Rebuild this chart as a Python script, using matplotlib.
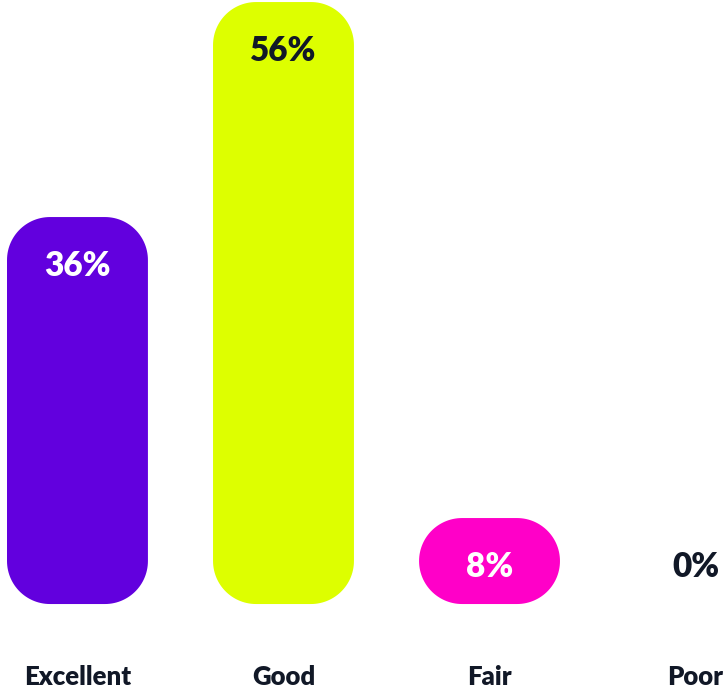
import matplotlib
matplotlib.use("Agg")
import numpy as np
import matplotlib.pyplot as plt
from matplotlib.patches import Polygon

categories = ["Excellent", "Good", "Fair", "Poor"]
values = [36, 56, 8, 0]
bar_colors = ["#6200DE", "#DDFF00", "#FF00C8", "#FFFFFF"]
label_colors = ["#FFFFFF", "#111827", "#FFFFFF", "#111827"]

W, H, DPI = 725, 691, 100
fig = plt.figure(figsize=(W / DPI, H / DPI), dpi=DPI)
ax = fig.add_axes([0, 0, 1, 1])
xlim = (-0.376, 3.143)
ylim = (-8.09, 56.19)
ax.set_xlim(*xlim)
ax.set_ylim(*ylim)
ax.axis("off")

bar_width = 0.684
px_per_x = W / (xlim[1] - xlim[0])
px_per_y = H / (ylim[1] - ylim[0])
radius_px = 43


def rounded_bar(x0, x1, y0, y1):
    """Outline of a bar with circular corners of radius_px pixels."""
    rx = min(radius_px / px_per_x, (x1 - x0) / 2)
    ry = min(radius_px / px_per_y, (y1 - y0) / 2)
    corners = [
        (x1 - rx, y1 - ry, 0, 90),
        (x0 + rx, y1 - ry, 90, 180),
        (x0 + rx, y0 + ry, 180, 270),
        (x1 - rx, y0 + ry, 270, 360),
    ]
    pts = []
    for cx, cy, a0, a1 in corners:
        t = np.radians(np.linspace(a0, a1, 30))
        pts.extend(zip(cx + rx * np.cos(t), cy + ry * np.sin(t)))
    return np.array(pts)


font = ["Lato", "DejaVu Sans"]

for i, (cat, v) in enumerate(zip(categories, values)):
    if v > 0:
        outline = rounded_bar(i - bar_width / 2, i + bar_width / 2, 0, v)
        ax.add_patch(Polygon(outline, closed=True, facecolor=bar_colors[i],
                             edgecolor="none"))
    label_y = max(v, 8) - 4.6
    ax.text(i, label_y, f"{v}%", ha="center", va="center",
            fontsize=24, fontweight="heavy", color=label_colors[i], family=font)
    ax.text(i, -6.79, cat, ha="center", va="center",
            fontsize=18.5, fontweight="heavy", color="#111827", family=font)

fig.savefig("out.png", dpi=DPI)
